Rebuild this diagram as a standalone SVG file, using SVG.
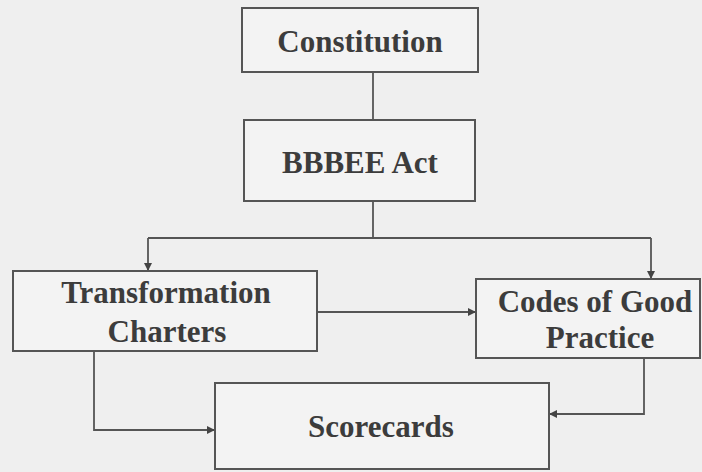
<svg xmlns="http://www.w3.org/2000/svg" width="702" height="472" viewBox="0 0 702 472">
<style>
.box{fill:#f3f3f3;stroke:#555;stroke-width:2}
.t{font-family:"Liberation Serif","Times New Roman",serif;font-weight:bold;fill:#3c3c3c;text-anchor:middle;font-size:31px}
.c{fill:none;stroke:#555;stroke-width:1.8}
</style>
<defs>
<marker id="ah" viewBox="0 0 10 10" refX="10" refY="5" markerWidth="10" markerHeight="8" markerUnits="userSpaceOnUse" orient="auto">
<path d="M0,0 L10,5 L0,10 Z" fill="#444"/>
</marker>
</defs>
<rect width="702" height="472" fill="#efefef"/>
<g id="connectors">
<path class="c" d="M373,72 V120"/>
<path class="c" d="M373,201 V238"/>
<path class="c" d="M148,238 H651"/>
<path class="c" d="M148,238 V271" marker-end="url(#ah)"/>
<path class="c" d="M651,238 V279" marker-end="url(#ah)"/>
<path class="c" d="M317,312 H476" marker-end="url(#ah)"/>
<path class="c" d="M94,351 V430 H215" marker-end="url(#ah)"/>
<path class="c" d="M644,358 V414 H549" marker-end="url(#ah)"/>
</g>
<g id="constitution">
<rect class="box" x="242" y="8" width="236" height="64"/>
<text class="t" x="360" y="52">Constitution</text>
</g>
<g id="bbbee">
<rect class="box" x="244" y="120" width="231" height="81"/>
<text class="t" x="360" y="173">BBBEE Act</text>
</g>
<g id="transformation">
<rect class="box" x="13" y="271" width="304" height="80"/>
<text class="t" x="166" y="303">Transformation</text>
<text class="t" x="167" y="342">Charters</text>
</g>
<g id="codes">
<rect class="box" x="476" y="279" width="224" height="79"/>
<text class="t" x="595" y="312">Codes of Good</text>
<text class="t" x="600" y="348">Practice</text>
</g>
<g id="scorecards">
<rect class="box" x="215" y="383" width="334" height="86"/>
<text class="t" x="381" y="437">Scorecards</text>
</g>
</svg>
